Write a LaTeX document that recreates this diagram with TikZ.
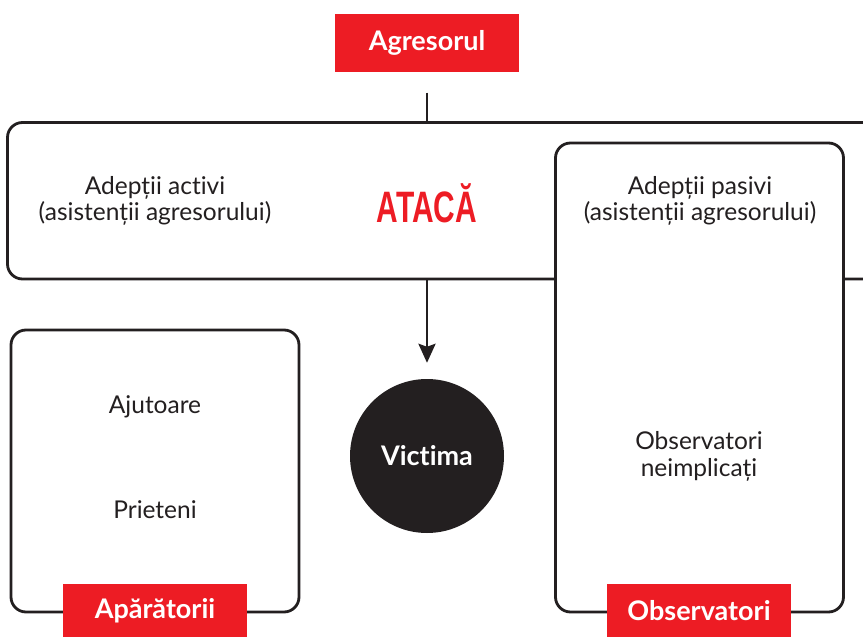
\documentclass[tikz,border=0pt]{standalone}
\usepackage{fontspec}
\setmainfont{Lato}[Ligatures=NoCommon]
\newfontfamily\atacfont{Liberation Sans}
\usetikzlibrary{arrows.meta}
\definecolor{redc}{HTML}{ED1C24}
\definecolor{ink}{HTML}{231F20}
\begin{document}
\begin{tikzpicture}[x=1pt,y=-1pt,
  frame/.style={draw=ink, line width=2.8pt, rounded corners=15pt, fill=white, inner sep=0pt},
  redlabel/.style={fill=redc, text=white, font=\fontsize{27}{30}\selectfont\bfseries, inner sep=0pt, minimum width=184pt},
  body/.style={text=ink, font=\fontsize{24.5}{28}\selectfont, anchor=base, inner sep=0pt},
  conn/.style={draw=ink, line width=2.8pt}]
\clip (0,0) rectangle (863,637);
\fill[white] (0,0) rectangle (863,637);
% big horizontal box (extends past the right edge)
\node[frame, minimum width=912.5pt, minimum height=156.5pt] (big) at (463.75,200.75) {};
% right box
\node[frame, minimum width=288pt, minimum height=469pt] (obs) at (699.5,377.5) {};
% left box
\node[frame, minimum width=288pt, minimum height=282pt] (def) at (155,471) {};
% top label
\node[redlabel, minimum height=58pt] (agr) at (427,43) {Agresorul};
\coordinate (agrline) at (427,92.5);
\draw[conn] (agrline) -- (agrline |- big.north);
% victim
\node[circle, fill=ink, minimum size=154pt, inner sep=0pt, text=white, font=\fontsize{27}{30}\selectfont\bfseries] (vic) at (427,456) {Victima};
\draw[conn, -{Stealth[length=19pt, width=17pt, inset=3pt]}, shorten >=16pt] (vic |- big.south) -- (vic.north);
% texts in big box
\node[body] (act1) at (155,194) {Adepții activi};
\node[body] (act2) at (155,220) {(asistenții agresorului)};
\node[anchor=base, inner sep=0pt, text=redc, font=\atacfont\bfseries\fontsize{44}{44}\selectfont] (atac) at (427,222) {\scalebox{0.68}[1]{ATACĂ}};
\node[body] (pas1) at (700,194) {Adepții pasivi};
\node[body] (pas2) at (700,220) {(asistenții agresorului)};
% left box texts
\node[body] (aj) at (155,413) {Ajutoare};
\node[body] (pr) at (155,518) {Prieteni};
% right box texts
\node[body] (ob1) at (699,449) {Observatori};
\node[body] (ob2) at (699,476) {neimplicați};
% bottom labels
\node[redlabel, minimum height=53pt] (lap) at (155,610.5) {Apărătorii};
\node[redlabel, minimum height=53pt] (lob) at (699,610.5) {Observatori};
\end{tikzpicture}
\end{document}
